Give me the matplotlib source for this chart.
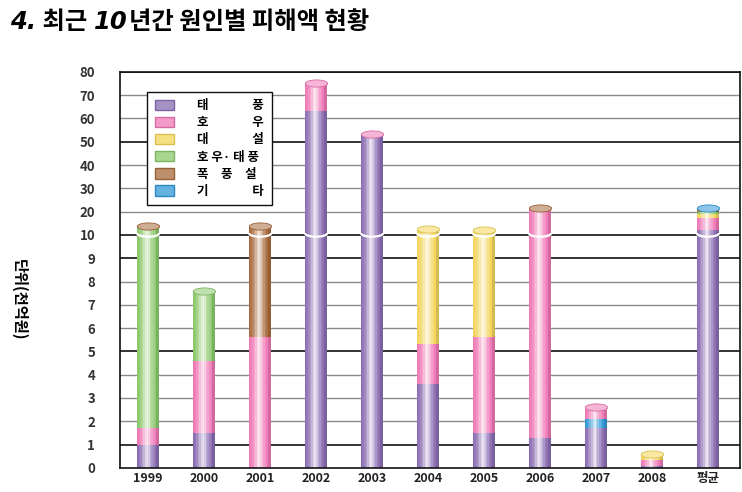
import matplotlib
matplotlib.use("Agg")
import matplotlib.pyplot as plt
import numpy as np
from matplotlib.patches import Patch
from matplotlib.path import Path
from matplotlib.colors import to_rgb

plt.rcParams['font.family'] = ['Noto Sans CJK KR', 'DejaVu Sans']

# data (unit: 천억원)
years = ['1999', '2000', '2001', '2002', '2003', '2004', '2005', '2006', '2007', '2008', '평균']
typhoon = [1.0, 1.5, 0.0, 63.0, 52.5, 3.6, 1.5, 1.3, 1.7, 0.1, 12.3]
rain = [0.7, 3.1, 5.6, 12.0, 0.8, 1.7, 4.1, 20.0, 0.5, 0.25, 5.0]
snow = [0.0, 0.0, 0.0, 0.0, 0.0, 7.4, 6.5, 0.0, 0.0, 0.25, 1.5]
rain_typhoon = [12.0, 3.0, 0.0, 0.0, 0.0, 0.0, 0.0, 0.0, 0.0, 0.0, 1.2]
storm_snow = [0.3, 0.0, 8.2, 0.0, 0.0, 0.0, 0.0, 0.4, 0.0, 0.0, 0.8]
etc = [0.0, 0.0, 0.0, 0.0, 0.0, 0.0, 0.0, 0.0, 0.4, 0.0, 0.8]

series = [typhoon, rain, snow, rain_typhoon, storm_snow, etc]
gap = '\u3000\u3000\u3000\u2002'
labels = ['태' + gap + '풍', '호' + gap + '우', '대' + gap + '설',
          '호 우· 태 풍', '폭\u3000풍\u3000설', '기' + gap + '타']
colors = ['#8a6db3', '#ef78b6', '#f2d55a', '#8cc86c', '#a86a3c', '#2f98d6']

y_ticks = [0, 1, 2, 3, 4, 5, 6, 7, 8, 9, 10, 20, 30, 40, 50, 60, 70, 80]
dark_lines = [0, 1, 5, 9, 10, 50, 80]


# broken axis: 0-10 full scale, 10-80 at 1/10
def fwd(y):
    y = np.asarray(y, dtype=float)
    return np.where(y <= 10, y, 10 + (y - 10) / 10.0)


def inv(z):
    z = np.asarray(z, dtype=float)
    return np.where(z <= 10, z, 10 + (z - 10) * 10.0)


def mix(c, w, a):
    c = np.array(to_rgb(c))
    w = np.array(to_rgb(w))
    return tuple(c * (1 - a) + w * a)


fig = plt.figure(figsize=(7.42, 4.92), dpi=100)
ax = fig.add_axes([0.162, 0.049, 0.835, 0.805])
ax.set_yscale('function', functions=(fwd, inv))
ax.set_ylim(0, 80)
x = np.arange(len(years))
ax.set_xlim(-0.5, 10.57)

for t in y_ticks[1:]:
    if t in dark_lines:
        ax.axhline(t, color='#111111', lw=1.2, zorder=1)
    else:
        ax.axhline(t, color='#8a8a8a', lw=1.0, zorder=1)

width = 0.4
nslice = 14
edges = np.linspace(-width / 2, width / 2, nslice + 1)
centers = (edges[:-1] + edges[1:]) / 2
sw = edges[1] - edges[0]
shade = []
for c in centers:
    tt = (c + width / 2) / width
    light = max(0.0, 1 - abs(tt - 0.45) / 0.42) ** 1.4 * 0.85
    shade.append(light)

ellipse = Path.unit_circle()
ell_marker = Path(ellipse.vertices * np.array([1.0, 0.32]), ellipse.codes)
# lower half of the ellipse, used for the break at 10
th = np.linspace(np.pi, 2 * np.pi, 30)
arc_marker = Path(np.column_stack([np.cos(th), 0.32 * np.sin(th) + 0.16]))
cap_size = (width * 56 * 0.72) ** 2

for i in range(len(years)):
    order = [0, 1, 2, 3, 4, 5]
    if years[i] == '2007':
        order = [0, 5, 1, 2, 3, 4]
    bottom = 0.0
    top_color = None
    for k in order:
        v = series[k][i]
        if v <= 0:
            continue
        for c, s in zip(centers, shade):
            if s > 0:
                col = mix(colors[k], '#ffffff', s)
            else:
                col = mix(colors[k], '#000000', 0.12)
            ax.bar(x[i] + c, v, width=sw * 1.05, bottom=bottom, color=col,
                   linewidth=0, zorder=2)
        bottom += v
        top_color = colors[k]
    if bottom > 10:
        ax.scatter([x[i]], [10], s=cap_size, marker=arc_marker, facecolor='none',
                   edgecolor='white', linewidth=1.6, zorder=3)
    ax.scatter([x[i]], [bottom], s=cap_size, marker=ell_marker,
               facecolor=mix(top_color, '#ffffff', 0.45),
               edgecolor=mix(top_color, '#000000', 0.1), linewidth=0.6, zorder=4)

ax.set_yticks(y_ticks)
ax.set_yticklabels([str(t) for t in y_ticks])
ax.yaxis.set_minor_locator(matplotlib.ticker.NullLocator())
ax.set_xticks(x)
ax.set_xticklabels(years)
ax.tick_params(axis='y', length=0, pad=18, labelsize=9.5, labelcolor='#333333')
ax.tick_params(axis='x', length=0, pad=3, labelsize=9, labelcolor='#222222')
for lbl in ax.get_yticklabels() + ax.get_xticklabels():
    lbl.set_fontweight('bold')
for sp in ax.spines.values():
    sp.set_color('#111111')
    sp.set_linewidth(1.2)

handles = [Patch(facecolor=mix(c, '#ffffff', 0.25), edgecolor=mix(c, '#000000', 0.1)) for c in colors]
leg = ax.legend(handles, labels, loc='upper left', bbox_to_anchor=(0.044, 0.95),
                fancybox=False, framealpha=1, edgecolor='#111111', fontsize=9,
                handlelength=1.5, handleheight=0.9, labelspacing=0.33,
                handletextpad=1.9, borderpad=0.6, borderaxespad=0)
leg.get_frame().set_linewidth(1.0)
for t in leg.get_texts():
    t.set_fontweight('bold')
leg.set_zorder(5)

# title in pieces: numbers in bold italic
renderer = fig.canvas.get_renderer()
pieces = [('4.', True), (' 최근 ', False), ('10', True), ('년간 원인별 피해액 현황', False)]
xpos = 10
for txt, ital in pieces:
    if ital:
        t = fig.text(xpos / 742, 0.955, txt, fontsize=17.5, fontweight='heavy',
                     style='italic', family='DejaVu Sans', va='center', ha='left')
    else:
        t = fig.text(xpos / 742, 0.955, txt, fontsize=17.5, fontweight='heavy',
                     va='center', ha='left')
    xpos = t.get_window_extent(renderer).x1 + 1

fig.text(0.026, 0.39, '단위(천억원)', rotation=-90, fontsize=11, fontweight='bold',
         va='center', ha='center')

fig.savefig('out.png', dpi=100)
